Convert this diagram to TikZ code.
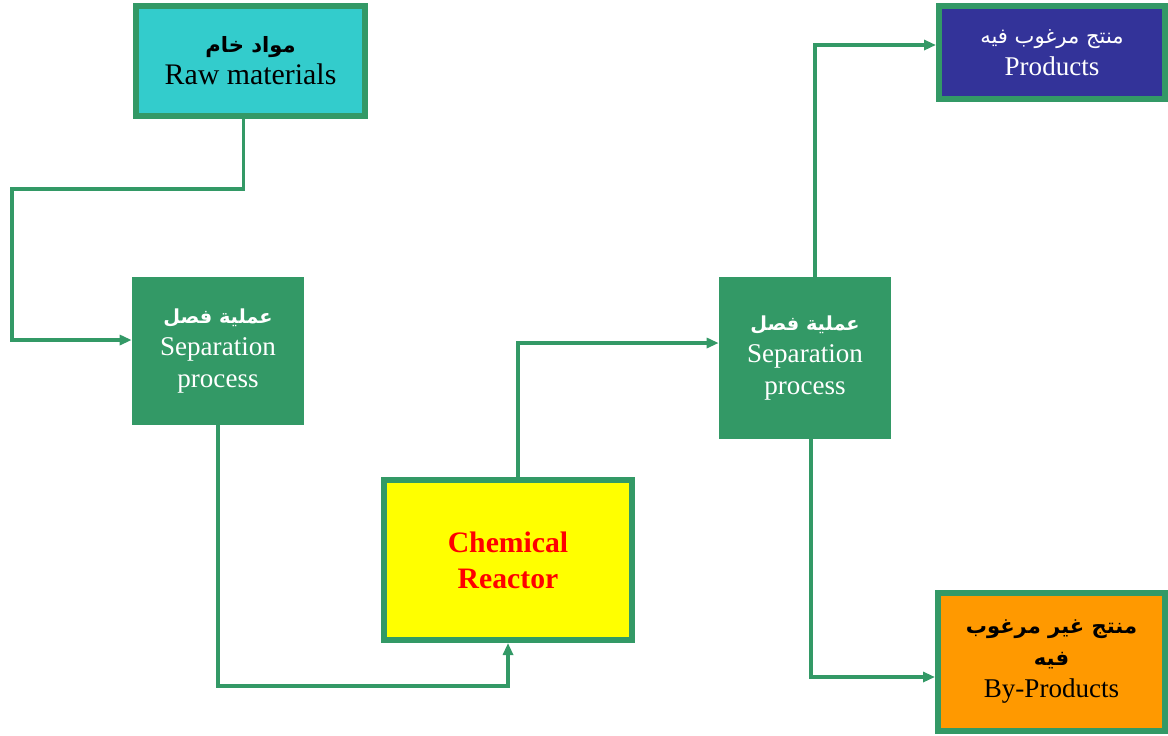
\documentclass[tikz,border=0pt]{standalone}
\usepackage{fontspec}
\usepackage{xcolor}
\setmainfont{Liberation Serif}
\newfontfamily\arabicfont[Script=Arabic]{DejaVu Sans}
\TeXXeTstate=1
\usetikzlibrary{arrows.meta}

\definecolor{flowgreen}{HTML}{339966}
\definecolor{rawcyan}{HTML}{33CCCC}
\definecolor{prodblue}{HTML}{333399}
\definecolor{byorange}{HTML}{FF9900}
\definecolor{reactyellow}{HTML}{FFFF00}

\newcommand{\artxt}[1]{{\arabicfont\fontsize{12pt}{18.2pt}\selectfont\beginR #1\endR}}
\newcommand{\artxtb}[2][12pt]{{\arabicfont\bfseries\fontsize{#1}{18.2pt}\selectfont\beginR #2\endR}}

\begin{document}
\begin{tikzpicture}[x=0.02cm, y=-0.02cm,
    stream/.style={rectangle, draw=flowgreen, line width=0.12cm, inner sep=0pt, align=center,
        font=\fontsize{15.4pt}{18.2pt}\selectfont},
    unit/.style={rectangle, fill=flowgreen, inner sep=0pt, align=center, text=white,
        minimum width=3.44cm, font=\fontsize{15.4pt}{18.2pt}\selectfont},
    flow/.style={draw=flowgreen, line width=0.07cm, -{Triangle[length=0.24cm, width=0.2cm]}}]
    \useasboundingbox (0,0) rectangle (1168,735);
        \node[stream, fill=rawcyan, minimum width=4.58cm, minimum height=2.2cm,
            font=\fontsize{17pt}{18.2pt}\selectfont] (raw) at (250.5,61)
            {\artxtb{مواد خام}\\Raw materials};
        \node[stream, fill=prodblue, text=white, minimum width=4.52cm, minimum height=1.86cm] (prod) at (1052,52.5)
            {\artxt{منتج مرغوب فيه}\\Products};
        \node[stream, fill=byorange, minimum width=4.54cm, minimum height=2.76cm] (byprod) at (1051.5,662)
            {\artxtb{منتج غير مرغوب}\\\artxtb{فيه}\\By-Products};
        \node[unit, minimum height=2.96cm] (sep1) at (218,351)
            {\artxtb[11pt]{عملية فصل}\\Separation\\process};
        \node[unit, minimum height=3.24cm] (sep2) at (805,358)
            {\artxtb[11pt]{عملية فصل}\\Separation\\process};
        \node[stream, fill=reactyellow, text=red, minimum width=4.96cm, minimum height=3.2cm,
            font=\bfseries\fontsize{16.9pt}{20.5pt}\selectfont] (reactor) at (508,560)
            {Chemical\\Reactor};
        \draw[flow] ([xshift=-0.14cm]raw.south) |- (12,189) |- ([yshift=0.22cm]sep1.west);
        \draw[flow] (sep1.south) |- (350,686) -| (reactor.south);
        \draw[flow] ([xshift=0.2cm]reactor.north) |- ([yshift=0.3cm]sep2.west);
        \draw[flow] ([xshift=0.2cm]sep2.north) |- ([yshift=0.15cm]prod.west);
        \draw[flow] ([xshift=0.12cm]sep2.south) |- ([yshift=-0.3cm]byprod.west);
    \end{tikzpicture}
\end{document}
